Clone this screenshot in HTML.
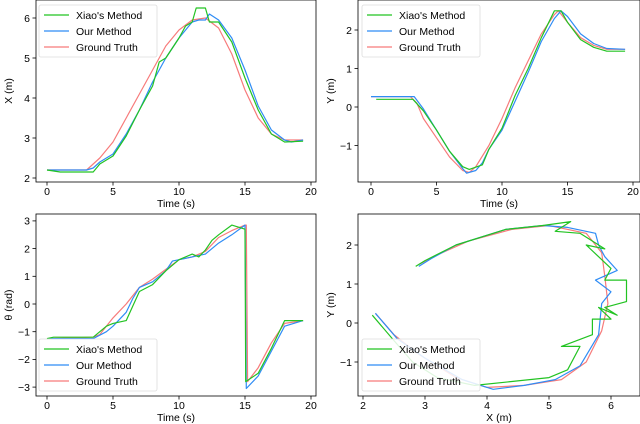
<!DOCTYPE html>
<html><head><meta charset="utf-8"><style>
body{margin:0;background:#fff;font-family:"Liberation Sans","DejaVu Sans",sans-serif}
svg{display:block}
</style></head><body>
<svg id="fig" width="640" height="424" viewBox="0 0 640 424" xmlns="http://www.w3.org/2000/svg"></svg>
<script>
// ---- data ----
const xT_gt=[0,3,4,5,6,7,8,9,10,11,12,13,14,15,16,17,18,19.4];
const xV_gt=[2.2,2.2,2.5,2.9,3.5,4.1,4.7,5.3,5.7,5.95,6.0,5.75,5.1,4.2,3.5,3.1,2.95,2.95];
const xT_our=[0,3,3.5,4,5,6,7,8,9,10,11,11.5,12,12.3,13,14,15,16,17,18,18.5,19.4];
const xV_our=[2.2,2.2,2.25,2.4,2.6,3.1,3.7,4.4,5.0,5.5,5.9,5.95,5.95,6.1,5.95,5.5,4.7,3.8,3.2,2.95,2.9,2.95];
const xT_xiao=[0,1,3.5,4,5,6,7,8,8.5,9,10,10.5,11,11.3,12,12.3,13,14,15,16,17,18,19.4];
const xV_xiao=[2.2,2.15,2.15,2.35,2.55,3.05,3.7,4.3,4.9,5.0,5.5,5.8,5.9,6.25,6.25,5.9,5.9,5.4,4.5,3.7,3.1,2.9,2.92];

const yT_gt=[0,3,3.5,4,5,6,7,7.5,8,9,10,11,12,13,14,14.3,15,16,17,18,19.4];
const yV_gt=[0.27,0.27,0.1,-0.3,-0.8,-1.3,-1.65,-1.7,-1.55,-1.0,-0.3,0.5,1.2,1.9,2.4,2.5,2.2,1.8,1.6,1.5,1.5];
const yT_our=[0,3.3,4,5,6,7,7.3,8,8.5,9,10,11,12,13,14,14.5,15,16,17,18,19.4];
const yV_our=[0.27,0.27,-0.05,-0.6,-1.15,-1.6,-1.72,-1.65,-1.45,-1.1,-0.6,0.15,0.9,1.7,2.3,2.5,2.35,1.9,1.65,1.52,1.5];
const yT_xiao=[0.4,3.2,4,5,6,7,7.5,8.5,9,10,11,12,13,14,14.5,15,16,17,18,19.4];
const yV_xiao=[0.2,0.2,-0.1,-0.6,-1.15,-1.55,-1.62,-1.5,-1.1,-0.55,0.3,1.0,1.8,2.5,2.5,2.2,1.75,1.55,1.45,1.45];

const tT_gt=[0,3.5,4,5,6,7,8,9,10,11,12,13,14,15,15.1,15.2,16,17,18,19.4];
const tV_gt=[-1.25,-1.2,-1.1,-0.5,0.0,0.6,0.9,1.25,1.6,1.7,1.9,2.4,2.65,2.85,2.85,-2.8,-2.3,-1.4,-0.7,-0.6];
const tT_our=[0,3.5,4.5,5,6,6.5,7,8,9,9.5,10,11,12,13,14,15,15.1,16,17,18,19.4];
const tV_our=[-1.25,-1.25,-1.0,-0.8,-0.3,0.2,0.6,0.8,1.2,1.55,1.6,1.7,1.8,2.2,2.5,2.85,-3.05,-2.6,-1.7,-0.8,-0.6];
const tT_xiao=[0,0.5,3.5,4.5,5,6,7,8,9,10,11,11.5,12,12.5,13,14,15,15.05,16,17,18,19.4];
const tV_xiao=[-1.25,-1.2,-1.2,-0.8,-0.7,-0.6,0.45,0.7,1.2,1.6,1.8,1.7,1.95,2.3,2.5,2.85,2.7,-2.8,-2.5,-1.6,-0.6,-0.6];

const pX_gt=[2.2,2.5,2.9,3.5,4,4.6,5.2,5.6,5.85,5.95,5.9,5.85,5.6,5,4.4,3.7,3.2,2.9];
const pY_gt=[0.25,-0.3,-0.8,-1.4,-1.65,-1.6,-1.45,-1.0,-0.2,0.5,1.2,1.8,2.3,2.5,2.4,2.1,1.75,1.5];
const pX_our=[2.2,2.55,3,3.6,4.1,4.6,5.1,5.5,5.8,5.85,6.0,5.75,6.1,5.9,5.8,5.75,5.3,4.9,4.3,3.5,3.1,2.9];
const pY_our=[0.25,-0.4,-0.9,-1.45,-1.7,-1.6,-1.45,-1.1,-0.3,0.5,0.8,1.1,1.35,1.7,2.0,2.3,2.45,2.5,2.4,2.0,1.65,1.45];
const pX_xiao=[2.15,2.5,2.8,3.2,3.8,4.4,5.0,5.3,5.5,5.2,5.7,5.7,6.0,5.8,6.1,5.9,6.25,6.25,5.9,6.0,5.6,5.9,5.5,5.1,5.35,4.9,4.3,3.5,3.0,2.85];
const pY_xiao=[0.2,-0.45,-1.0,-1.4,-1.6,-1.5,-1.4,-1.2,-0.6,-0.6,-0.3,0.1,0.1,0.4,0.2,0.4,0.55,1.1,1.1,1.4,2.0,1.9,2.3,2.35,2.6,2.5,2.4,2.0,1.6,1.45];

const timeTicks=[0,5,10,15,20];
const xTicks=[2,3,4,5,6], yTicks=[-1,0,1,2], thTicks=[-3,-2,-1,0,1,2,3];
const pxTicks=[2,3,4,5,6], pyTicks=[-1,0,1,2];
const legendLabels=["Xiao's Method","Our Method","Ground Truth"];
const colors={xiao:"#22c322",our:"#2f8cf5",gt:"#f77b7b"};

const svg=document.getElementById('fig');
const NS="http://www.w3.org/2000/svg";
function mk(tag,attrs,parent){const e=document.createElementNS(NS,tag);for(const k in attrs)e.setAttribute(k,attrs[k]);(parent||svg).appendChild(e);return e;}

function panel(name,box,xs,ys,xt,yt,xlab,ylab,series,legPos){
  const g=mk('g',{});
  
  
  const X=v=>xs.p0+(v-xs.v0)*xs.k, Y=v=>ys.p0-(v-ys.v0)*ys.k;
  const clipId=name+'-clip';
  const cp=mk('clipPath',{id:clipId},g);mk('rect',{x:box.x,y:box.y,width:box.w,height:box.h},cp);
  const sg=mk('g',{'clip-path':'url(#'+clipId+')'},g);
  series.forEach(s=>{
    const p=mk('polyline',{points:s.xs.map((v,i)=>X(v).toFixed(1)+','+Y(s.ys[i]).toFixed(1)).join(' '),fill:'none',stroke:s.c,'stroke-width':1.2,'stroke-linejoin':'round'},sg);
    
    
  });
  const fr=mk('rect',{x:box.x,y:box.y,width:box.w,height:box.h,fill:'none',stroke:'#000','stroke-width':0.8},g);
  
  
  xt.forEach(v=>{const x=X(v);mk('line',{x1:x,x2:x,y1:box.y+box.h,y2:box.y+box.h+3.5,stroke:'#000','stroke-width':0.8},g);
    const t=mk('text',{x:x,y:box.y+box.h+13,'font-size':10.5,'text-anchor':'middle'},g);t.textContent=String(v).replace('-','\u2212');
    });
  yt.forEach(v=>{const y=Y(v);mk('line',{x1:box.x-3.5,x2:box.x,y1:y,y2:y,stroke:'#000','stroke-width':0.8},g);
    const t=mk('text',{x:box.x-6,y:y+3.8,'font-size':10.5,'text-anchor':'end'},g);t.textContent=String(v).replace('-','\u2212');
    });
  const xl=mk('text',{x:box.x+box.w/2,y:box.y+box.h+25,'font-size':10.5,'text-anchor':'middle'},g);xl.textContent=xlab;
  
  const lx=box.x-24, ly=box.y+box.h/2;
  const yl=mk('text',{x:lx,y:ly,'font-size':10.5,'text-anchor':'middle',transform:'rotate(-90 '+lx+' '+ly+')'},g);yl.textContent=ylab;
  
  const lg=mk('g',{},g);
  
  mk('rect',{x:legPos.x,y:legPos.y,width:118,height:52,rx:2,fill:'#fff','fill-opacity':0.85,stroke:'#ddd','stroke-width':0.8},lg);
  const cs=[colors.xiao,colors.our,colors.gt];
  legendLabels.forEach((l,i)=>{const yy=legPos.y+10+i*16;
    mk('line',{x1:legPos.x+5,x2:legPos.x+30,y1:yy,y2:yy,stroke:cs[i],'stroke-width':1.3},lg);
    const t=mk('text',{x:legPos.x+37,y:yy+4,'font-size':10.5},lg);t.textContent=l;
    });
}
const tx={p0:47,v0:0,k:13.2}, tx2={p0:371,v0:0,k:13.1};
panel('x-vs-time',{x:36,y:0,w:280,h:182},tx,{p0:178,v0:2,k:40},timeTicks,xTicks,'Time (s)','X (m)',
 [{xs:xT_gt,ys:xV_gt,c:colors.gt,n:'ground-truth-line'},{xs:xT_our,ys:xV_our,c:colors.our,n:'our-method-line'},{xs:xT_xiao,ys:xV_xiao,c:colors.xiao,n:'xiao-method-line'}],{x:39,y:5});
panel('y-vs-time',{x:358,y:0,w:282,h:182},tx2,{p0:107,v0:0,k:38.5},timeTicks,yTicks,'Time (s)','Y (m)',
 [{xs:yT_gt,ys:yV_gt,c:colors.gt,n:'ground-truth-line'},{xs:yT_our,ys:yV_our,c:colors.our,n:'our-method-line'},{xs:yT_xiao,ys:yV_xiao,c:colors.xiao,n:'xiao-method-line'}],{x:362,y:5});
panel('theta-vs-time',{x:36,y:214,w:280,h:182},tx,{p0:304,v0:0,k:27.7},timeTicks,thTicks,'Time (s)','\u03b8 (rad)',
 [{xs:tT_gt,ys:tV_gt,c:colors.gt,n:'ground-truth-line'},{xs:tT_our,ys:tV_our,c:colors.our,n:'our-method-line'},{xs:tT_xiao,ys:tV_xiao,c:colors.xiao,n:'xiao-method-line'}],{x:39,y:339});
panel('xy-trajectory',{x:358,y:214,w:282,h:182},{p0:363,v0:2,k:62},{p0:323,v0:0,k:39},pxTicks,pyTicks,'X (m)','Y (m)',
 [{xs:pX_gt,ys:pY_gt,c:colors.gt,n:'ground-truth-line'},{xs:pX_our,ys:pY_our,c:colors.our,n:'our-method-line'},{xs:pX_xiao,ys:pY_xiao,c:colors.xiao,n:'xiao-method-line'}],{x:362,y:339});
</script>
</body></html>
